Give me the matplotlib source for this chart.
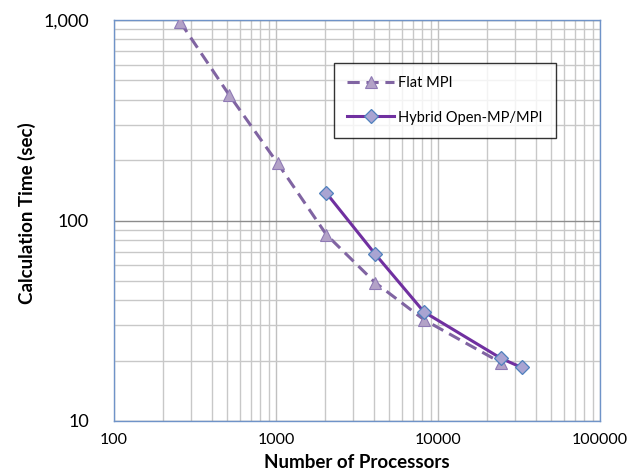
import matplotlib
matplotlib.use("Agg")
import matplotlib.pyplot as plt
from matplotlib.ticker import FixedLocator, LogLocator, NullFormatter, FuncFormatter

# data
flat_procs = [256, 512, 1024, 2048, 4096, 8192, 24576]
flat_time = [980, 425, 193, 85, 49, 32, 19.5]

hyb_procs = [2048, 4096, 8192, 24576, 32768]
hyb_time = [137, 68, 35, 20.5, 18.5]

x_ticks = [100, 1000, 10000, 100000]
y_ticks = [10, 100, 1000]
y_tick_labels = ["10", "100", "1,000"]

plt.rcParams['font.family'] = ['Lato', 'DejaVu Sans']

fig = plt.figure(figsize=(6.29, 4.70), dpi=100)
ax = fig.add_axes([0.1812, 0.1043, 0.7727, 0.853])

ax.plot(flat_procs, flat_time, linestyle=(0, (4, 2.2)), color='#8064A2', linewidth=2.2,
        marker='^', markersize=9, markerfacecolor='#B3A2C7', markeredgecolor='#8F7AB5',
        markeredgewidth=0.8, label='Flat MPI', zorder=3)
ax.plot(hyb_procs, hyb_time, linestyle='-', color='#7030A0', linewidth=2.2,
        marker='D', markersize=7, markerfacecolor='#A9A4D2', markeredgecolor='#4F81BD',
        markeredgewidth=0.9, label='Hybrid Open-MP/MPI', zorder=4)

ax.set_xscale('log')
ax.set_yscale('log')
ax.set_xlim(100, 100000)
ax.set_ylim(10, 1000)

ax.xaxis.set_major_locator(FixedLocator(x_ticks))
ax.xaxis.set_major_formatter(FuncFormatter(lambda v, p: "%d" % v))
ax.yaxis.set_major_locator(FixedLocator(y_ticks))
ax.set_yticklabels(y_tick_labels)
ax.xaxis.set_minor_locator(LogLocator(base=10, subs=range(2, 10)))
ax.yaxis.set_minor_locator(LogLocator(base=10, subs=range(2, 10)))
ax.xaxis.set_minor_formatter(NullFormatter())
ax.yaxis.set_minor_formatter(NullFormatter())

ax.grid(which='minor', color='#C8C8C8', linewidth=1.0)
ax.grid(which='major', axis='x', color='#C0C0C0', linewidth=1.0)
ax.grid(which='major', axis='y', color='#8C8C8C', linewidth=1.0)
ax.set_axisbelow(True)

ax.tick_params(which='both', length=0)
ax.tick_params(axis='y', pad=18, labelsize=13)
ax.tick_params(axis='x', pad=9, labelsize=11.5)

for s in ax.spines.values():
    s.set_color('#6F93C8')
    s.set_linewidth(1.0)

fig.text(0.5676, 1 - 462 / 470, "Number of Processors", fontsize=13.5, fontweight='bold',
         ha='center', va='center')
fig.text(27 / 629, 1 - 213 / 470, "Calculation Time (sec)", fontsize=13.5, fontweight='bold',
         ha='center', va='center', rotation=90)

leg = ax.legend(loc='upper left', bbox_to_anchor=(0.453, 0.893), fontsize=10.5,
                frameon=True, fancybox=False, handlelength=3.2, labelspacing=1.4,
                borderpad=0.9, handletextpad=0.3, borderaxespad=0)
leg.get_frame().set_edgecolor('black')
leg.get_frame().set_linewidth(1.0)

fig.savefig("out.png", dpi=100)
